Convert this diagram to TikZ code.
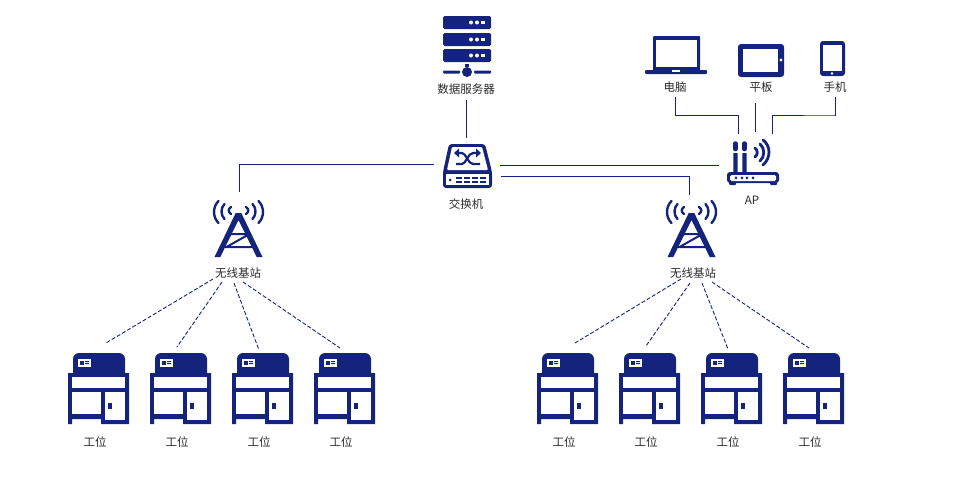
\documentclass[tikz,border=0pt]{standalone}
\usepackage{fontspec}
\setmainfont{Noto Sans CJK SC}
\definecolor{navy}{HTML}{14247C}
\definecolor{txt}{HTML}{2A2A2A}
\tikzset{
  x=1pt,y=-1pt,
  lbl/.style={font=\fontsize{11.5}{13}\selectfont,text=txt,inner sep=0pt},
  link/.style={navy,line width=1pt},
  wireless/.style={navy,line width=0.9pt,dash pattern=on 4pt off 2pt},
  ic/.style={fill=navy,draw=none},
  hole/.style={fill=white,draw=none},
  wave/.style={navy,line width=2.4pt,line cap=round,fill=none},
  station/.pic={
    \fill[ic] (5,20) -- (5,5) .. controls (5,1.7) and (7.7,-1) .. (11,-1) -- (51,-1) .. controls (54.3,-1) and (57,1.7) .. (57,5) -- (57,20) -- cycle;
    \fill[hole] (10,5) rectangle (23,13);
    \fill[ic] (12,7) rectangle (16,11);
    \fill[ic] (17,7) rectangle (21,8) (17,9) rectangle (21,10);
    \fill[ic] (0,19) -- (61,19) -- (61,70) -- (33,70) -- (33,65) -- (4,65) -- (4,70) -- (0,70) -- cycle;
    \fill[hole] (4,23) rectangle (57,34);
    \fill[hole] (4,38) rectangle (33,60);
    \fill[hole] (37,38) rectangle (57,66);
    \fill[ic] (40,49) rectangle (44,55);
  },
  tower/.pic={
    \fill[ic] (-2.8,0) -- (2.8,0) -- (24,44) -- (18.2,44) -- (0,7) -- (-18.2,44) -- (-24,44) -- cycle;
    \draw[navy,line width=2pt] (-8,21) -- (8,21) (-14,34) -- (14,34) (-12,34) -- (11,21);
    \foreach \s in {1,-1}{
      \draw[wave,xscale=\s] (7.5,-6) .. controls (10.5,-4) and (10.5,-1) .. (7.5,1);
      \draw[wave,xscale=\s] (14,-9) .. controls (18,-5) and (18,2) .. (14,6);
      \draw[wave,xscale=\s] (20,-12) .. controls (26,-6) and (26,4) .. (20,10);
    }
  },
}
\begin{document}
\begin{tikzpicture}
\useasboundingbox (0,0) rectangle (961,477);

% ---- server
\foreach \y in {16,33,49}{
  \fill[ic,rounded corners=1.5pt] (443,\y) rectangle (491,\y+13);
  \fill[white] (471,\y+6.5) circle (2) (477,\y+6.5) circle (2);
  \fill[white] (481.2,\y+4.7) rectangle (484.8,\y+8.3);
}
\fill[ic] (465,64) rectangle (469,67);
\fill[ic] (467,72) circle (5);
\fill[ic,rounded corners=1pt] (443,70.5) rectangle (460,73.5);
\fill[ic,rounded corners=1pt] (474,70.5) rectangle (491,73.5);
\node[lbl] (srv) at (466,89) {数据服务器};

% ---- switch
\fill[ic,rounded corners=3pt] (449,144) -- (485,144) -- (492,172) -- (492,188) -- (443,188) -- (443,172) -- cycle;
\fill[hole,rounded corners=1pt] (452,147) -- (482,147) -- (488,170) -- (447,170) -- cycle;
\fill[hole] (446,174) rectangle (489,185);
\draw[navy,line width=2.2pt] (458,153) -- (462,153) .. controls (466,153) and (468,164) .. (473,164) -- (480,164);
\draw[navy,line width=2.2pt] (456,164) -- (462,164) .. controls (466,164) and (468,153) .. (473,153) -- (477,153);
\fill[ic] (459,148.5) -- (459,157.5) -- (454,153) -- cycle;
\fill[ic] (476,148.5) -- (476,157.5) -- (481,153) -- cycle;
\fill[ic] (450,180) circle (1.5);
\foreach \x in {456,464,472,480}{
  \fill[ic] (\x,177) rectangle (\x+6,179);
  \fill[ic] (\x,181) rectangle (\x+6,183);
}
\node[lbl] (sw) at (466,204) {交换机};

% ---- laptop
\fill[ic,rounded corners=1pt] (653,36) rectangle (700,71);
\fill[hole] (656,40) rectangle (697,67);
\fill[ic,rounded corners=1pt] (645,70) rectangle (707,74);
\fill[hole] (672,70) rectangle (680,71.5);
\node[lbl] (pc) at (675,87) {电脑};

% ---- tablet
\fill[ic,rounded corners=3pt] (738,44) rectangle (784,77);
\fill[hole] (743,49) rectangle (778,72);
\fill[white] (781,60) circle (1.6);
\node[lbl] (tab) at (761,87) {平板};

% ---- phone
\fill[ic,rounded corners=3pt] (820,41) rectangle (845,76);
\fill[hole] (823,45) rectangle (842,71);
\fill[white] (832,73.5) circle (1.3);
\node[lbl] (ph) at (835,87) {手机};

% ---- AP
\draw[navy,line width=4.5pt,line cap=round] (735.5,143.5) -- (735.5,149);
\draw[navy,line width=4.5pt,line cap=round] (744.5,143.5) -- (744.5,149);
\fill[ic] (733.3,153) rectangle (737.7,172) (742.3,153) rectangle (746.7,172);
\fill[ic,rounded corners=3pt] (727,172) rectangle (779,183);
\fill[ic,rounded corners=1pt] (729,182) rectangle (736,185) (770,182) rectangle (777,185);
\fill[hole,rounded corners=1.5pt] (730,175) rectangle (776,181);
\foreach \x in {736,742,747,753} \fill[ic] (\x,177.8) circle (1.5);
\draw[wave,line width=2.8pt] (755,148) .. controls (758,150) and (758,155) .. (755,157);
\draw[wave,line width=2.8pt] (760,144) .. controls (765,148) and (765,157) .. (760,161);
\draw[wave,line width=2.8pt] (763,140) .. controls (771,146) and (771,158) .. (763,165);
\node[lbl] (ap) at (752,200) {AP};

% ---- towers
\pic at (238.5,213) {tower};
\pic at (691.5,213) {tower};
\node[lbl] (ta) at (238,273) {无线基站};
\node[lbl] (tb) at (693,273) {无线基站};

% ---- stations
\foreach \n/\x/\c in {a1/68/95,a2/150/177,a3/232/259,a4/314/341,b1/537/564,b2/619/646,b3/701/728,b4/783/810}{
  \pic at (\x,354) {station};
  \node[lbl] (\n) at (\c,442) {工位};
}

% ---- connector ends
\coordinate (srvB) at (466,100);
\coordinate (swT) at (466,138);
\coordinate (swL) at (434,164);
\coordinate (towAT) at (239,192);
\coordinate (swR1) at (500,165.5);
\coordinate (apL) at (719,165.5);
\coordinate (swR2) at (501,176.5);
\coordinate (towBT) at (689.5,195);
\coordinate (pcB) at (675,97);
\coordinate (apA) at (738.5,134);
\coordinate (tabB) at (755.5,103);
\coordinate (apB) at (755.5,132);
\coordinate (phB) at (835.5,97);
\coordinate (apC) at (772.5,134);

\draw[link] (srvB) -- (swT);
\draw[link] (swL) -| (towAT);
\draw[link] (swR1) -- (apL);
\draw[link] (swR2) -| (towBT);
\draw[link] (pcB) |- (675,115) -| (apA);
\draw[link] (tabB) -- (apB);
\draw[link] (phB) |- (835,115) -| (apC);

% ---- wireless links
\foreach \n/\sx/\sy/\ex/\ey in {
  a1/213/279/106/343, a2/222/282/177/347, a3/234/283/259/350, a4/243/282/340/348,
  b1/681/279/575/343, b2/690/283/646/346, b3/702/283/728/349, b4/712/282/809/348}{
  \coordinate (from\n) at (\sx,\sy);
  \coordinate (to\n) at (\ex,\ey);
  \draw[wireless] (from\n) -- (to\n);
}
\end{tikzpicture}
\end{document}
